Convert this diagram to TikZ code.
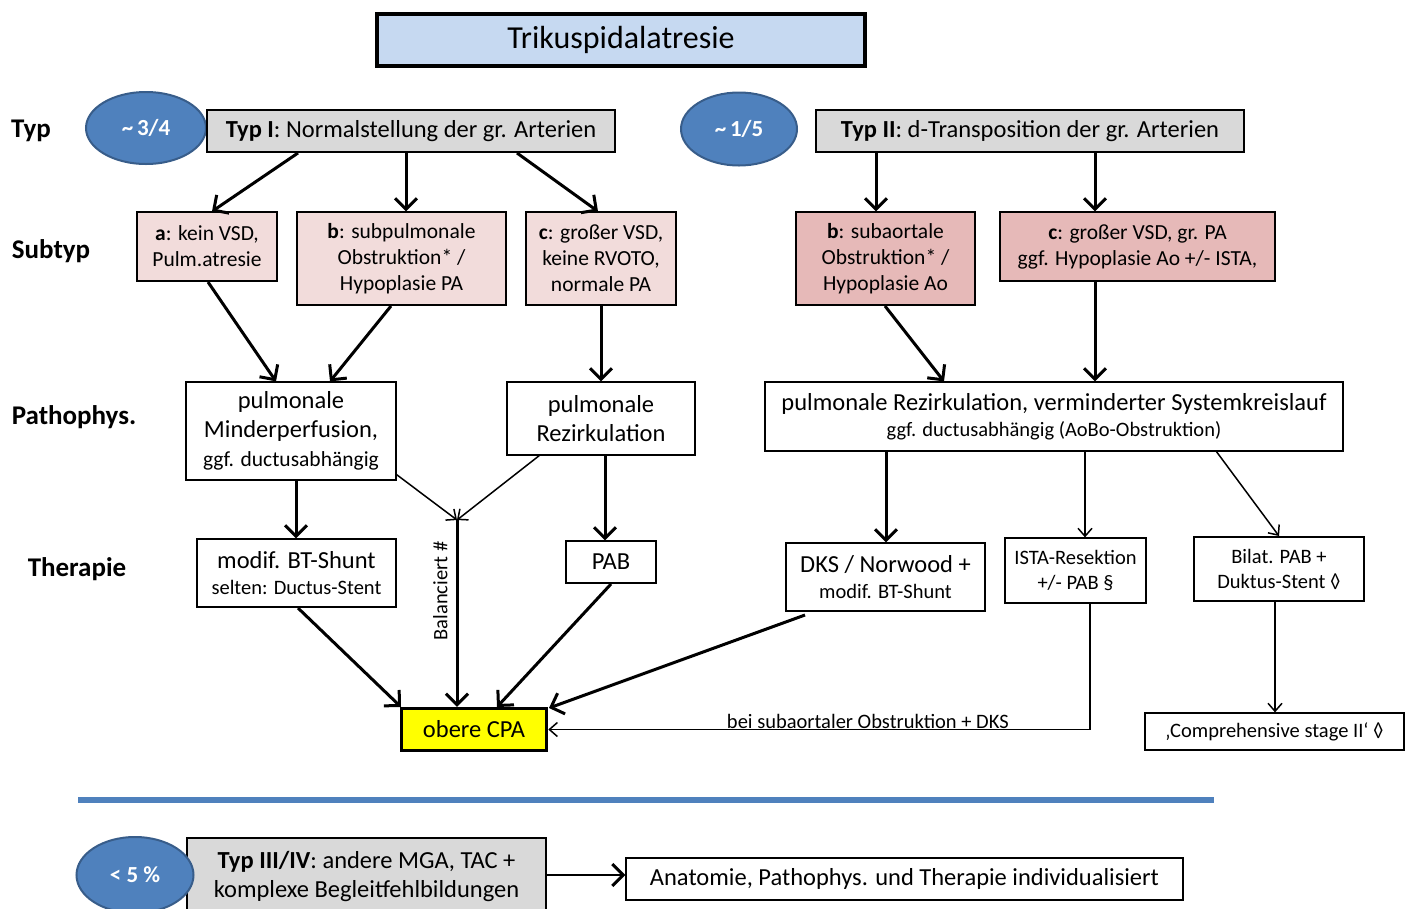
\documentclass[tikz,border=0pt]{standalone}
\usepackage{fontspec}
\setmainfont{Carlito}
\usetikzlibrary{arrows.meta, shapes.geometric}

\definecolor{titleblue}{HTML}{C6D9F1}
\definecolor{ovalblue}{HTML}{4F81BD}
\definecolor{ovalline}{HTML}{385D8A}
\definecolor{typgray}{HTML}{D9D9D9}
\definecolor{pinklight}{HTML}{F2DCDB}
\definecolor{pinkdark}{HTML}{E6B9B8}
\definecolor{cpayellow}{HTML}{FFFF00}

\newcommand{\bigtxt}{\fontsize{24.5}{29}\selectfont}
\newcommand{\midtxt}{\fontsize{21.5}{26}\selectfont}
\newcommand{\smalltxt}{\fontsize{20.5}{25}\selectfont}

\begin{document}
\begin{tikzpicture}[
    x=1pt, y=-1pt,
    every node/.style={align=center, inner sep=2pt},
    rowlabel/.style={font=\bfseries\fontsize{27}{30}\selectfont},
    oval/.style={ellipse, draw=ovalline, line width=2pt, fill=ovalblue,
      text=white, font=\bfseries\fontsize{23}{26}\selectfont, inner sep=0pt},
    typbox/.style={rectangle, draw, line width=1.5pt, fill=typgray, font=\bigtxt},
    subbox/.style={rectangle, draw, line width=1.2pt, fill=pinklight, font=\midtxt},
    subdark/.style={subbox, fill=pinkdark},
    plainbox/.style={rectangle, draw, line width=1.2pt, fill=white, font=\bigtxt},
    heavy/.style={line width=3pt, -{Straight Barb[length=11pt, width=22pt, line width=3pt]}},
    light/.style={line width=1.5pt, -{Straight Barb[length=8pt, width=14pt, line width=1.5pt]}}
  ]

    \useasboundingbox (0,0) rectangle (1413,908);

    % Title
    \node (title) [rectangle, draw, line width=3.5pt, fill=titleblue,
      minimum width=488, minimum height=52, font=\fontsize{32}{36}\selectfont]
      at (621,40) {Trikuspidalatresie};

    % Row labels
    \node (ltyp)  [rowlabel] at (31,131)  {Typ};
    \node (lsub)  [rowlabel] at (51,251)  {Subtyp};
    \node (lpath) [rowlabel] at (74,417)  {Pathophys.};
    \node (lther) [rowlabel] at (77,569)  {Therapie};

    % Types
    \node (pI)   [oval, minimum width=120, minimum height=72] at (146,128) {\textasciitilde\,3/4};
    \node (typI) [typbox, minimum width=408, minimum height=42] at (411,131)
      {\textbf{Typ I}: Normalstellung der gr. Arterien};
    \node (pII)   [oval, minimum width=116, minimum height=73] at (739,129) {\textasciitilde\,1/5};
    \node (typII) [typbox, minimum width=428, minimum height=42] at (1030,131)
      {\textbf{Typ II}: d-Transposition der gr. Arterien};

    % Subtypes
    \node (sa)  [subbox, minimum width=140, minimum height=69] at (207,246.5)
      {\textbf{a}: kein VSD,\\Pulm.atresie};
    \node (sb)  [subbox, minimum width=209, minimum height=93] at (401.5,258.5)
      {\textbf{b}: subpulmonale\\Obstruktion* /\\Hypoplasie PA};
    \node (sc)  [subbox, minimum width=150, minimum height=93] at (601,258.5)
      {\textbf{c}: großer VSD,\\keine RVOTO,\\normale PA};
    \node (sIIb) [subdark, minimum width=179, minimum height=93] at (885.5,258.5)
      {\textbf{b}: subaortale\\Obstruktion* /\\Hypoplasie Ao};
    \node (sIIc) [subdark, minimum width=275, minimum height=69] at (1137.5,246.5)
      {\textbf{c}: großer VSD, gr. PA\\ggf. Hypoplasie Ao +/- ISTA,};

    % Pathophysiology
    \node (minder) [plainbox, minimum width=210, minimum height=98] at (291,431)
      {pulmonale\\Minderperfusion,\\{\midtxt ggf. ductusabhängig}};
    \node (rezirk) [plainbox, minimum width=188, minimum height=73] at (601,418.5)
      {pulmonale\\Rezirkulation};
    \node (system) [plainbox, minimum width=578, minimum height=69] at (1054,416.5)
      {pulmonale Rezirkulation, verminderter Systemkreislauf\\[-3pt]
       {\smalltxt ggf. ductusabhängig (AoBo-Obstruktion)}};

    % Therapy
    \node (bts)   [plainbox, minimum width=199, minimum height=68] at (296.5,573)
      {modif. BT-Shunt\\[-3pt]{\smalltxt selten: Ductus-Stent}};
    \node (pab)   [plainbox, minimum width=90, minimum height=42] at (611,562) {PAB};
    \node (dks)   [plainbox, minimum width=199, minimum height=68] at (885.5,577)
      {DKS / Norwood +\\[-3pt]{\smalltxt modif. BT-Shunt}};
    \node (ista)  [plainbox, minimum width=141, minimum height=65, font=\smalltxt] at (1075.5,570.5)
      {ISTA-Resektion\\+/- PAB §};
    \node (bilat) [plainbox, minimum width=170, minimum height=64, font=\smalltxt] at (1279,569)
      {Bilat. PAB +\\Duktus-Stent ◊};

    % Outcome
    \node (cpa)  [rectangle, draw, line width=3.5pt, fill=cpayellow, font=\bigtxt,
      minimum width=145, minimum height=42] at (474,729.5) {obere CPA};
    \node (comp) [plainbox, font=\smalltxt, minimum width=259, minimum height=37] at (1274.5,731.5)
      {‚Comprehensive stage II‘ ◊};

    % Separator
    \draw[ovalblue, line width=6pt] (78,800) -- (1214,800);

    % Typ III/IV
    \node (typIII) [typbox, minimum width=359, minimum height=76] at (366.5,876)
      {\textbf{Typ III/IV}: andere MGA, TAC +\\komplexe Begleitfehlbildungen};
    \node (pIII) [oval, minimum width=117, minimum height=76] at (135,875) {< 5 \%};
    \node (indiv) [plainbox, minimum width=557, minimum height=42] at (904.5,879)
      {Anatomie, Pathophys. und Therapie individualisiert};

    \coordinate (bal) at (457,520);

    % Edges
    \draw[heavy] (298,153) -- (sa.north -| 212,0);
    \draw[heavy] (406,153) -- (sb.north -| 406,0);
    \draw[heavy] (517,153) -- (sc.north -| 598,0);
    \draw[heavy] (876,153) -- (sIIb.north -| 876,0);
    \draw[heavy] (1095,153) -- (sIIc.north -| 1095,0);

    \draw[heavy] (208,282) -- (minder.north -| 276,0);
    \draw[heavy] (391,306) -- (minder.north -| 330,0);
    \draw[heavy] (sc.south) -- (rezirk.north);
    \draw[heavy] (885,306) -- (system.north -| 944,0);
    \draw[heavy] (sIIc.south -| 1095,0) -- (system.north -| 1095,0);

    \draw[heavy] (minder.south -| 296,0) -- (bts.north -| 296,0);
    \draw[light] (minder.south east) ++(0,-6) -- (bal);
    \draw[light] (540,455) -- (bal);
    \draw[heavy] (bal) -- node[pos=0.38, left=6pt, rotate=90, anchor=south, font=\smalltxt]
      {Balanciert \#} (cpa.north -| bal);
    \draw[heavy] (rezirk.south -| 605,0) -- (pab.north -| 605,0);
    \draw[heavy] (system.south -| 886,0) -- (dks.north -| 886,0);
    \draw[light] (system.south -| 1085,0) -- (ista.north -| 1085,0);
    \draw[light] (1216,451) -- (1279,536);

    \draw[heavy] (298,608) -- (401,707);
    \draw[heavy] (611,584) -- (497,707);
    \draw[heavy] (805,615) -- (549,708);
    \draw[light] (ista.south -| 1090,0) |- node[pos=0.705, above=-2pt, font=\smalltxt]
      {bei subaortaler Obstruktion + DKS} (cpa.east);
    \draw[light] (bilat.south -| 1275,0) -- (comp.north -| 1275,0);
    \draw[heavy, line width=2pt] (typIII.east |- 0,875) -- (indiv.west |- 0,875);

  \end{tikzpicture}
\end{document}
